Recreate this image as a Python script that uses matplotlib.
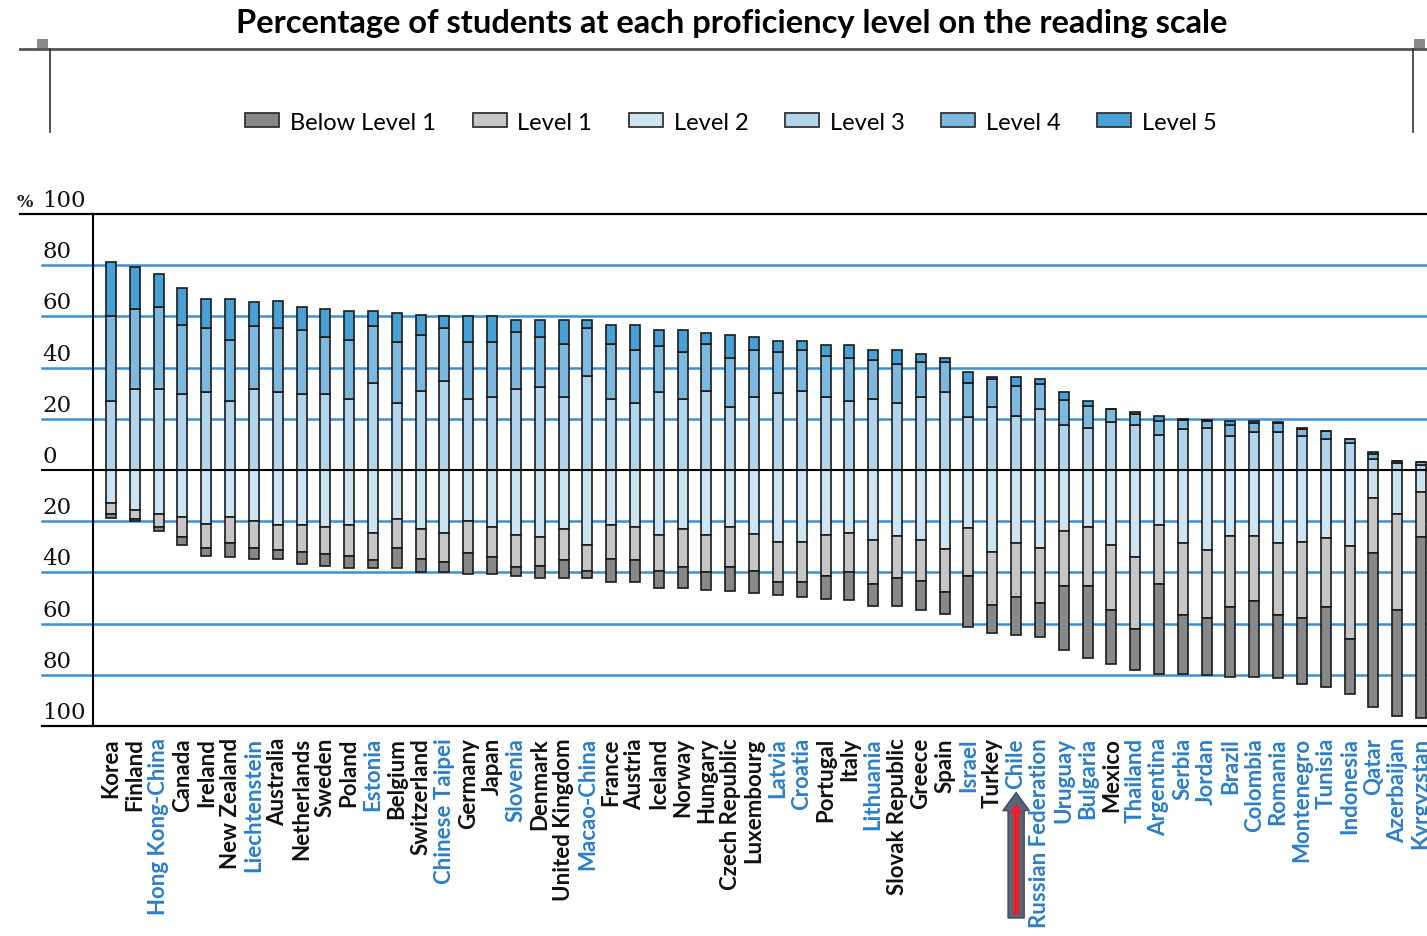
import numpy as np
import matplotlib.pyplot as plt
from matplotlib.lines import Line2D
from matplotlib.patches import Patch, Rectangle

countries = ["Korea", "Finland", "Hong Kong-China", "Canada", "Ireland", "New Zealand",
             "Liechtenstein", "Australia", "Netherlands", "Sweden", "Poland", "Estonia",
             "Belgium", "Switzerland", "Chinese Taipei", "Germany", "Japan", "Slovenia",
             "Denmark", "United Kingdom", "Macao-China", "France", "Austria", "Iceland",
             "Norway", "Hungary", "Czech Republic", "Luxembourg", "Latvia", "Croatia",
             "Portugal", "Italy", "Lithuania", "Slovak Republic", "Greece", "Spain",
             "Israel", "Turkey", "Chile", "Russian Federation", "Uruguay", "Bulgaria",
             "Mexico", "Thailand", "Argentina", "Serbia", "Jordan", "Brazil", "Colombia",
             "Romania", "Montenegro", "Tunisia", "Indonesia", "Qatar", "Azerbaijan",
             "Kyrgyzstan"]

# partner (non-OECD) countries are printed in blue
partners = {"Hong Kong-China", "Liechtenstein", "Estonia", "Chinese Taipei", "Slovenia",
            "Macao-China", "Latvia", "Croatia", "Lithuania", "Israel", "Chile",
            "Russian Federation", "Uruguay", "Bulgaria", "Thailand", "Argentina", "Serbia",
            "Jordan", "Brazil", "Colombia", "Romania", "Montenegro", "Tunisia",
            "Indonesia", "Qatar", "Azerbaijan", "Kyrgyzstan"}

# percentages
level5 = [21.3, 16.5, 13.0, 14.3, 11.3, 15.9, 9.7, 10.7, 9.3, 10.8, 11.5, 6.2, 11.5, 7.7,
          4.6, 10.1, 10.1, 4.9, 6.3, 9.2, 3.0, 7.6, 10.0, 6.1, 8.6, 4.5, 9.2, 5.3, 4.6,
          3.7, 4.4, 5.3, 3.9, 5.5, 3.3, 1.5, 4.3, 0.8, 3.7, 2.1, 3.0, 2.0, 0.3, 0.5, 1.8,
          0.4, 0.5, 1.6, 0.9, 0.4, 0.3, 0.2, 0.1, 0.8, 0.1, 0.1]
level4 = [33.1, 31.2, 31.8, 27.2, 25.1, 23.7, 24.4, 25.1, 24.9, 22.5, 22.9, 22.0, 23.6,
          22.0, 20.5, 22.0, 21.2, 22.1, 19.6, 20.7, 18.6, 21.5, 20.5, 18.1, 18.2, 18.3,
          19.0, 18.3, 15.8, 15.9, 16.0, 16.5, 15.2, 15.0, 13.5, 11.9, 13.3, 10.9, 11.8,
          9.9, 9.6, 8.8, 5.0, 4.3, 5.6, 3.6, 2.9, 4.6, 3.7, 3.6, 2.9, 2.8, 1.5, 2.0, 0.9,
          1.0]
level3 = [26.9, 31.7, 31.7, 29.6, 30.3, 27.1, 31.7, 30.3, 29.6, 29.6, 27.9, 34.1, 26.3,
          30.9, 34.9, 27.9, 28.7, 31.7, 32.5, 28.5, 36.8, 27.7, 26.3, 30.3, 27.7, 30.9,
          24.7, 28.5, 30.1, 30.9, 28.5, 27.1, 27.7, 26.3, 28.5, 30.3, 20.7, 24.7, 20.9,
          23.7, 17.7, 16.3, 18.7, 17.7, 13.7, 16.0, 16.3, 13.1, 14.7, 14.7, 13.1, 12.3,
          10.7, 4.3, 2.7, 2.0]
level2 = [12.7, 15.6, 17.2, 18.5, 21.1, 18.5, 20.0, 21.6, 21.6, 22.3, 21.6, 24.7, 19.2,
          23.2, 24.7, 20.0, 22.3, 25.3, 26.3, 23.2, 29.4, 21.6, 22.3, 25.3, 23.2, 25.3,
          22.3, 25.0, 28.1, 28.1, 25.3, 24.7, 27.2, 25.6, 27.2, 31.0, 22.6, 32.1, 28.7,
          30.3, 24.0, 22.3, 29.4, 34.0, 21.6, 28.7, 31.3, 25.6, 25.6, 28.7, 28.1, 26.4,
          29.7, 11.0, 17.3, 8.5]
level1 = [4.4, 3.6, 5.1, 7.8, 9.2, 10.2, 10.3, 9.7, 10.5, 10.5, 11.8, 10.3, 11.1, 11.4,
          11.3, 12.6, 11.6, 12.4, 11.1, 12.1, 9.9, 13.2, 13.0, 14.0, 14.5, 14.7, 15.4,
          14.3, 15.6, 15.6, 16.1, 15.3, 17.2, 16.7, 16.0, 16.5, 18.8, 20.7, 20.9, 21.5,
          21.4, 23.1, 25.3, 28.3, 22.8, 27.8, 26.5, 27.8, 25.5, 27.8, 29.7, 27.0, 36.3,
          21.6, 37.4, 17.6]
below_level1 = [1.6, 0.8, 1.7, 3.1, 3.1, 5.2, 4.5, 3.5, 4.7, 4.6, 4.7, 3.4, 8.1, 5.3,
                3.9, 8.0, 6.7, 3.7, 4.9, 7.0, 3.0, 9.1, 8.6, 6.8, 8.4, 6.7, 9.6, 8.6, 5.2,
                5.9, 8.9, 10.9, 8.9, 11.0, 11.5, 8.7, 20.1, 11.0, 14.9, 13.3, 25.0, 28.0,
                21.0, 15.8, 35.3, 23.2, 22.2, 27.4, 29.7, 24.9, 25.9, 31.4, 21.5, 60.1,
                41.4, 70.6]

level_names = ["Below Level 1", "Level 1", "Level 2", "Level 3", "Level 4", "Level 5"]
level_colors = ["#888888", "#c6c6c6", "#cde5f3", "#b0d5ec", "#7db8df", "#48a0d5"]

grid_blue = "#3a90d2"
label_blue = "#2b7fc8"
W, H = 1427, 937

fig = plt.figure(figsize=(W / 100, H / 100), dpi=100)
ax = fig.add_axes([93 / W, 1 - 727 / H, 1 - 93 / W, 512 / H])

x = np.arange(len(countries))
w = 0.42
edge = dict(edgecolor="#1a1a1a", linewidth=1.2, zorder=3)

l3 = np.array(level3)
l4 = np.array(level4)
l2 = np.array(level2)
l1 = np.array(level1)
ax.bar(x, l3, w, color=level_colors[3], **edge)
ax.bar(x, l4, w, bottom=l3, color=level_colors[4], **edge)
ax.bar(x, level5, w, bottom=l3 + l4, color=level_colors[5], **edge)
ax.bar(x, -l2, w, color=level_colors[2], **edge)
ax.bar(x, -l1, w, bottom=-l2, color=level_colors[1], **edge)
ax.bar(x, -np.array(below_level1), w, bottom=-(l2 + l1), color=level_colors[0], **edge)

ax.set_xlim(-0.756, 55.25)
ax.set_ylim(-100, 100)

# horizontal rules, stretched to the left under the tick labels
yt = ax.get_yaxis_transform()
for v in [80, 60, 40, 20, -20, -40, -60, -80]:
    ax.plot([-0.038, 1], [v, v], transform=yt, color=grid_blue, lw=1.8,
            clip_on=False, zorder=1)
ax.plot([-0.038, 1], [0, 0], transform=yt, color="black", lw=1.5, clip_on=False, zorder=4)
ax.plot([-0.055, 1], [100, 100], transform=yt, color="black", lw=1.6, clip_on=False, zorder=4)
ax.plot([-0.038, 1], [-100, -100], transform=yt, color="black", lw=1.6, clip_on=False, zorder=4)

for s in ["top", "right", "bottom"]:
    ax.spines[s].set_visible(False)
ax.spines["left"].set_linewidth(1.5)

ax.set_yticks([])
for v in [100, 80, 60, 40, 20, 0, -20, -40, -60, -80, -100]:
    ax.text(-0.0382, v + 1.2, str(abs(v)), transform=yt, ha="left", va="bottom",
            fontsize=16.5, family="DejaVu Serif", color="#111111")
ax.text(-0.0575, 101.5, "%", transform=yt, ha="left", va="bottom", fontsize=12.5,
        family="DejaVu Serif", weight="bold", color="#222222")

ax.set_xticks(x)
ax.set_xticklabels(countries, rotation=90, fontsize=16, family="Lato", weight="bold")
for lab, name in zip(ax.get_xticklabels(), countries):
    lab.set_color(label_blue if name in partners else "#111111")
ax.tick_params(axis="x", length=0, pad=8)

# arrow pointing at Chile
ci = countries.index("Chile")
ax.annotate("", xy=(ci, -0.13), xycoords=("data", "axes fraction"),
            xytext=(ci, -0.375), textcoords=("data", "axes fraction"),
            arrowprops=dict(arrowstyle="simple,head_length=0.65,head_width=0.95,tail_width=0.58",
                            fc="#56657a", ec="#3f4b5b", lw=1, mutation_scale=20,
                            shrinkA=0, shrinkB=0),
            annotation_clip=False, zorder=6)
ax.annotate("", xy=(ci, -0.15), xycoords=("data", "axes fraction"),
            xytext=(ci, -0.368), textcoords=("data", "axes fraction"),
            arrowprops=dict(arrowstyle="simple,head_length=0.4,head_width=0.45,tail_width=0.22",
                            fc="#e8202a", ec="#e8202a", lw=0, mutation_scale=20,
                            shrinkA=0, shrinkB=0),
            annotation_clip=False, zorder=7)

fig.text(732 / W, 1 - 23 / H, "Percentage of students at each proficiency level on the reading scale",
         ha="center", va="center", fontsize=23.5, weight="bold", family="Lato")

handles = [Patch(facecolor=c, edgecolor="#333333", linewidth=1.3) for c in level_colors]
fig.legend(handles, level_names, loc="center", bbox_to_anchor=(731 / W, 1 - 123 / H),
           ncol=6, frameon=False, prop=dict(family="Lato", size=17),
           handlelength=1.45, handleheight=0.5, handletextpad=0.45, columnspacing=1.55)

# frame above the legend
ft = fig.transFigure
fig.add_artist(Line2D([20 / W, 1], [1 - 50 / H] * 2, color="#555555", lw=2, transform=ft))
for xv in [50, 1413]:
    fig.add_artist(Line2D([xv / W] * 2, [1 - 50 / H, 1 - 133 / H], color="#333333", lw=1.2,
                          transform=ft))
for xv in [37, 1414]:
    fig.add_artist(Rectangle((xv / W, 1 - 51 / H), 11 / W, 11 / H, facecolor="#8a8a8a",
                             edgecolor="none", transform=ft))

fig.savefig("out.png", dpi=100)
